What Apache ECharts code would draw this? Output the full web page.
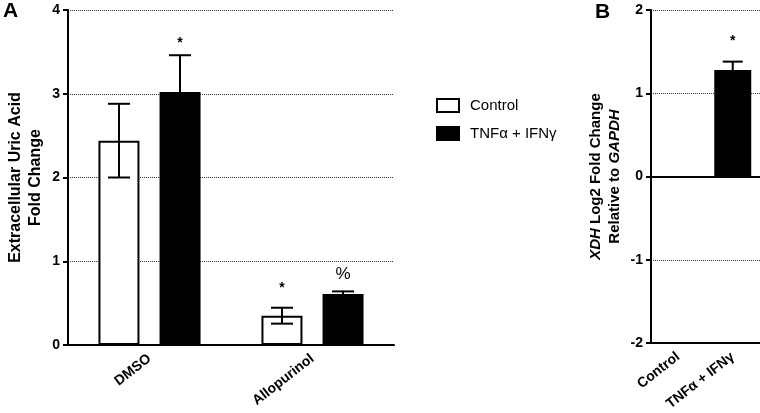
<!DOCTYPE html>
<html>
<head>
<meta charset="utf-8">
<script src="https://cdn.jsdelivr.net/npm/echarts@6/dist/echarts.min.js"></script>
<style>html,body{margin:0;padding:0;background:#fff;}#c{width:760px;height:413px;}</style>
</head>
<body>
<div id="c"></div>
<script>
// Panel A data
const categoriesA = ['DMSO', 'Allopurinol'];
const controlMeans = [2.44, 0.35];
const controlErr = [0.44, 0.095];
const tnfMeans = [3.02, 0.61];
const tnfErr = [0.44, 0.03];
const controlMarks = ['', '*'];
const controlMarkY = [null, 0.68];
const tnfMarks = ['*', '%'];
const tnfMarkY = [3.6, 0.84];
const ticksA = [0, 1, 2, 3, 4];
// Panel B data
const categoriesB = ['Control', 'TNFα + IFNγ'];
const xdhMeans = [null, 1.28];
const xdhErr = [null, 0.10];
const xdhMarks = ['', '*'];
const xdhMarkY = [null, 1.63];
const ticksB = [-2, -1, 0, 1, 2];

const FONT = '"Liberation Sans", Arial, sans-serif';

function errData(means, errs, marks, markYs) {
  return means.map((m, i) => [i, m == null ? 0 : m, errs[i] == null ? 0 : errs[i], marks[i], markYs[i] == null ? 0 : markYs[i], m == null ? 0 : 1]);
}

function errRender(offset, capW) {
  return function (params, api) {
    const i = api.value(0);
    const m = api.value(1);
    const e = api.value(2);
    const show = api.value(5);
    const children = [];
    if (show) {
      const top = api.coord([i, m + e]);
      const bot = api.coord([i, m - e]);
      const x = top[0] + offset;
      const st = { stroke: '#000', lineWidth: 2 };
      children.push({ type: 'line', shape: { x1: x, y1: top[1], x2: x, y2: bot[1] }, style: st });
      children.push({ type: 'line', shape: { x1: x - capW / 2, y1: top[1], x2: x + capW / 2, y2: top[1] }, style: st });
      children.push({ type: 'line', shape: { x1: x - capW / 2, y1: bot[1], x2: x + capW / 2, y2: bot[1] }, style: st });
    }
    const mark = api.value(3);
    if (mark) {
      const p = api.coord([i, api.value(4)]);
      children.push({ type: 'text', style: { text: mark, x: p[0] + offset, y: p[1], align: 'center', verticalAlign: 'middle', fill: '#000', font: (mark === '%' ? '17px ' : 'bold 14px ') + FONT } });
    }
    return { type: 'group', children: children };
  };
}

const axisLineStyle = { color: '#000', width: 2 };
const splitDotted = { show: true, lineStyle: { type: 'dotted', color: '#333', width: 1 } };
const tickLabel = { fontSize: 14, fontWeight: 'bold', color: '#000', margin: 8, fontFamily: FONT };
const catLabel = { rotate: 38, fontSize: 14, fontWeight: 'bold', color: '#000', margin: 12, fontFamily: FONT };

const option = {
  animation: false,
  backgroundColor: '#fff',
  textStyle: { fontFamily: FONT },
  graphic: [
    { type: 'text', left: 3, top: 1, style: { text: 'A', font: 'bold 21px ' + FONT, fill: '#000' } },
    { type: 'text', left: 595, top: 2, style: { text: 'B', font: 'bold 21px ' + FONT, fill: '#000' } }
  ],
  legend: {
    left: 436, top: 98, padding: 0, orient: 'vertical', itemWidth: 22, itemHeight: 13, itemGap: 13,
    icon: 'rect',
    data: ['Control', 'TNFα + IFNγ'],
    textStyle: { fontSize: 15, color: '#000', fontFamily: FONT, padding: [0, 0, 0, 6] }
  },
  grid: [
    { left: 68, top: 10, width: 326, height: 335 },
    { left: 651, top: 10, width: 109, height: 336 }
  ],
  xAxis: [
    {
      gridIndex: 0, type: 'category', data: categoriesA,
      axisLine: { lineStyle: axisLineStyle },
      axisTick: { alignWithLabel: true, length: 5, lineStyle: { width: 2, color: '#000' } },
      axisLabel: catLabel
    },
    {
      gridIndex: 1, type: 'category', data: categoriesB,
      axisLine: { onZero: false, lineStyle: axisLineStyle },
      axisTick: { alignWithLabel: true, length: 5, lineStyle: { width: 2, color: '#000' } },
      axisLabel: catLabel
    }
  ],
  yAxis: [
    {
      gridIndex: 0, type: 'value', min: ticksA[0], max: ticksA[ticksA.length - 1], interval: 1,
      axisLine: { show: true, lineStyle: axisLineStyle },
      axisTick: { show: true, length: 5, lineStyle: { width: 2, color: '#000' } },
      axisLabel: tickLabel,
      splitLine: splitDotted,
      name: 'Extracellular Uric Acid\nFold Change', nameLocation: 'middle', nameGap: 22,
      nameTextStyle: { fontSize: 16, fontWeight: 'bold', color: '#000', lineHeight: 20, fontFamily: FONT }
    },
    {
      gridIndex: 1, type: 'value', min: ticksB[0], max: ticksB[ticksB.length - 1], interval: 1,
      axisLine: { show: true, lineStyle: axisLineStyle },
      axisTick: { show: true, length: 5, lineStyle: { width: 2, color: '#000' } },
      axisLabel: tickLabel,
      splitLine: splitDotted,
      name: '{i|XDH} {n|Log2 Fold Change}\n{n|Relative to }{i|GAPDH}', nameLocation: 'middle', nameGap: 27,
      nameTextStyle: {
        fontSize: 15, fontWeight: 'bold', color: '#000', lineHeight: 19, fontFamily: FONT,
        rich: {
          i: { fontStyle: 'italic', fontWeight: 'bold', fontSize: 15, fontFamily: FONT, color: '#000', lineHeight: 19 },
          n: { fontWeight: 'bold', fontSize: 15, fontFamily: FONT, color: '#000', lineHeight: 19 }
        }
      }
    }
  ],
  series: [
    {
      name: 'Control', type: 'bar', xAxisIndex: 0, yAxisIndex: 0, data: controlMeans,
      barWidth: 41, barGap: '49%',
      itemStyle: { color: '#fff', borderColor: '#000', borderWidth: 2 }
    },
    {
      name: 'TNFα + IFNγ', type: 'bar', xAxisIndex: 0, yAxisIndex: 0, data: tnfMeans,
      barWidth: 41, barGap: '49%',
      itemStyle: { color: '#000', borderColor: '#000', borderWidth: 2 }
    },
    {
      type: 'custom', xAxisIndex: 0, yAxisIndex: 0, z: 5,
      data: errData(controlMeans, controlErr, controlMarks, controlMarkY),
      renderItem: errRender(-30.5, 22)
    },
    {
      type: 'custom', xAxisIndex: 0, yAxisIndex: 0, z: 5,
      data: errData(tnfMeans, tnfErr, tnfMarks, tnfMarkY),
      renderItem: errRender(30.5, 22)
    },
    {
      type: 'bar', xAxisIndex: 1, yAxisIndex: 1, data: xdhMeans, barWidth: 37,
      itemStyle: { color: '#000', borderColor: '#000', borderWidth: 2 },
      markLine: {
        silent: true, symbol: 'none', label: { show: false },
        lineStyle: { type: 'solid', color: '#000', width: 2 },
        data: [{ yAxis: 0 }]
      }
    },
    {
      type: 'custom', xAxisIndex: 1, yAxisIndex: 1, z: 5,
      data: errData(xdhMeans, xdhErr, xdhMarks, xdhMarkY),
      renderItem: errRender(0, 20)
    }
  ]
};

const chart = echarts.init(document.getElementById('c'), null, { renderer: 'canvas' });
chart.setOption(option);
</script>
</body>
</html>
